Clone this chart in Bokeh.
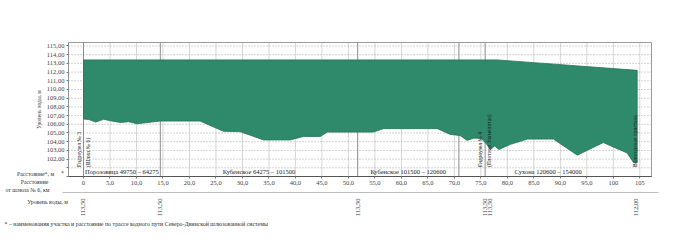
import numpy as np
from bokeh.plotting import figure
from bokeh.models import Range1d, FixedTicker, Label, LinearAxis
from bokeh.embed import file_html
from bokeh.resources import INLINE

# ---------------- data ----------------
# water surface (upper edge of the profile): km from lock No 6 / level, m
surface_km = [0.0, 78.0, 104.5]
surface_lvl = [113.4, 113.4, 112.2]

# channel bed (lower edge of the profile)
bed_km = [0.0, 1.0, 2.3, 3.8, 5.1, 7.0, 8.5, 10.1, 14.5, 22.0, 26.4, 29.6, 34.0, 39.0,
          41.5, 44.7, 46.0, 54.7, 56.6, 66.8, 69.2, 71.1, 72.4, 73.6, 75.0, 76.0, 76.8,
          77.6, 78.4, 80.6, 83.8, 88.7, 93.2, 98.1, 102.6, 103.8, 104.5]
bed_lvl = [106.6, 106.55, 106.25, 106.57, 106.4, 106.2, 106.3, 106.06, 106.37, 106.37, 105.2,
           105.15, 104.2, 104.2, 104.6, 104.6, 105.1, 105.1, 105.5, 105.5, 104.84, 104.7,
           104.15, 104.4, 104.4, 103.8, 103.1, 103.5, 103.1, 103.7, 104.3, 104.3, 102.45,
           103.9, 102.7, 101.6, 101.6]

# sections (boundaries in km) and their names
section_bounds = [0.0, 14.5, 51.75, 70.85, 104.5]
section_names = ["Порозовица 49750 – 64275", "Кубенское 64275 – 101500",
                 "Кубенское 101500 – 120600", "Сухона 120600 – 154000"]

# structures
struct_km = [0.0, 75.8, 104.0]
struct_line1 = ["Гидроузел № 3", "Гидроузел № 4", "Вологодская пристань"]
struct_line2 = ["(Шлюз № 6)", "(Плотина Знаменитая)", None]

# water levels written under the axis
level_km = [0.0, 14.5, 51.75, 75.8, 76.8, 104.3]
level_txt = ["113,50", "113,50", "113,50", "113,50", "113,50", "112,00"]

x_ticks = list(range(0, 106, 5))
x_tick_labels = ["0"] + [f"{t},0" for t in range(5, 96, 5)] + ["100", "105"]
y_ticks = list(range(100, 116))
y_tick_labels = ["", ""] + [f"{t},00" for t in range(102, 116)]

# ---------------- geometry ----------------
W, H = 674, 244
X0, X1 = -2.83, 107.2          # chart box, data units
Y0, Y1 = 100.0, 115.4
BL, BR, BT, BB = 68, 651, 42, 176   # chart box, pixels
sx = (BR - BL) / (X1 - X0)
sy = (BB - BT) / (Y1 - Y0)
XA = X0 - BL / sx
XB = XA + W / sx
YB = Y0 - (H - BB) / sy
YT = Y1 + BT / sy

def px2x(px):
    return XA + px / sx

def py2y(py):
    return YT - py / sy

FONT = "Liberation Serif"

p = figure(width=W, height=H, output_backend="svg", toolbar_location=None,
           x_range=Range1d(XA, XB), y_range=Range1d(YB, YT),
           min_border=0, min_border_left=0, min_border_right=0,
           min_border_top=0, min_border_bottom=0,
           background_fill_color="white", border_fill_color="white",
           x_axis_location=None, y_axis_location=None)
p.outline_line_color = None
p.xgrid.visible = False
p.ygrid.visible = False

# grid inside the chart box
p.segment(x0=x_ticks, y0=Y0, x1=x_ticks, y1=Y1, line_color="#d6d6d6", line_width=1)
p.segment(x0=X0, y0=y_ticks, x1=X1, y1=y_ticks, line_color="#a8a8a8", line_width=1,
          line_dash="1 2")

# boundary lines
bx = section_bounds[:-1] + [struct_km[1]]
p.segment(x0=bx, y0=Y0, x1=bx, y1=Y1, line_color="#8c8c8c", line_width=1)

# profile
poly_x = surface_km + bed_km[::-1]
poly_y = surface_lvl + bed_lvl[::-1]
p.patch(poly_x, poly_y, fill_color="#2e8a6a", line_color="#247356", line_width=0.8)

# chart box outline
p.quad(left=[X0], right=[X1], bottom=[Y0], top=[Y1], fill_color=None,
       line_color="#9a9a9a", line_width=1)

# x axis (distance)
xa = LinearAxis(fixed_location=Y0, bounds=(X0, X1), ticker=FixedTicker(ticks=x_ticks))
xa.major_label_overrides = {t: l for t, l in zip(x_ticks, x_tick_labels)}
xa.minor_tick_line_color = None
xa.major_tick_out = 2
xa.major_tick_in = 0
xa.major_label_standoff = 2
xa.axis_line_color = "#555555"
xa.major_tick_line_color = "#777777"
xa.major_label_text_font = FONT
xa.major_label_text_font_size = "6.5px"
xa.major_label_text_color = "#444444"
p.add_layout(xa, "below")

# y axis (level)
ya = LinearAxis(fixed_location=X0, bounds=(Y0, Y1), ticker=FixedTicker(ticks=y_ticks))
ya.major_label_overrides = {t: l for t, l in zip(y_ticks, y_tick_labels)}
ya.minor_tick_line_color = None
ya.major_tick_out = 2
ya.major_tick_in = 0
ya.major_label_standoff = 2
ya.axis_line_color = "#8a8a8a"
ya.axis_line_dash = "1 1"
ya.major_tick_line_color = "#777777"
ya.major_label_text_font = FONT
ya.major_label_text_font_size = "6.5px"
ya.major_label_text_color = "#444444"
ya.axis_label = "Уровень воды, м"
ya.axis_label_text_font = FONT
ya.axis_label_text_font_size = "5.5px"
ya.axis_label_text_font_style = "normal"
ya.axis_label_text_color = "#333333"
ya.axis_label_standoff = 2
p.add_layout(ya, "left")

# water-level row as an axis with rotated labels
la = LinearAxis(fixed_location=py2y(192), bounds=(px2x(62), px2x(658)),
                ticker=FixedTicker(ticks=level_km))
la.major_label_overrides = {t: l for t, l in zip(level_km, level_txt)}
la.major_label_orientation = np.pi / 2
la.major_tick_line_color = None
la.minor_tick_line_color = None
la.major_label_standoff = 0
la.axis_line_color = "#bdbdbd"
la.major_label_text_font = FONT
la.major_label_text_font_size = "6.5px"
la.major_label_text_color = "#333333"
p.add_layout(la, "below")

# section labels
for i, name in enumerate(section_names):
    xc = (section_bounds[i] + section_bounds[i + 1]) / 2
    p.add_layout(Label(x=xc, y=100.15, text=name, text_align="center", text_baseline="bottom",
                       text_font=FONT, text_font_size="6.5px", text_color="#222222"))

# structure labels (rotated)
def vlabel(x, y, text):
    p.add_layout(Label(x=x, y=y, text=text, angle=np.pi / 2, text_align="left",
                       text_baseline="middle", text_font=FONT, text_font_size="5.5px",
                       text_color="#222222"))

for k, l1, l2 in zip(struct_km, struct_line1, struct_line2):
    if l2 is None:
        vlabel(k, 101.1, l1)
    else:
        vlabel(k - 0.9, 101.1, l1)
        vlabel(k + 0.8, 101.1, l2)

# left-hand row captions and footnote
def cap(px, py, text, align="center", size="5.8px"):
    p.add_layout(Label(x=px2x(px), y=py2y(py), text=text, text_align=align,
                       text_baseline="middle", text_font=FONT, text_font_size=size,
                       text_color="#333333"))

cap(35, 173, "Расстояние*, м")
cap(62, 172, "*")
cap(34, 181, "Расстояние")
cap(27, 189, "от шлюза № 6, км")
cap(47, 201, "Уровень воды, м")
cap(4, 223, "* – наименования участка и расстояние по трассе водного пути Северо-Двинской шлюзованной системы",
    align="left", size="5.9px")

open("out.html", "w").write(file_html(p, INLINE))
